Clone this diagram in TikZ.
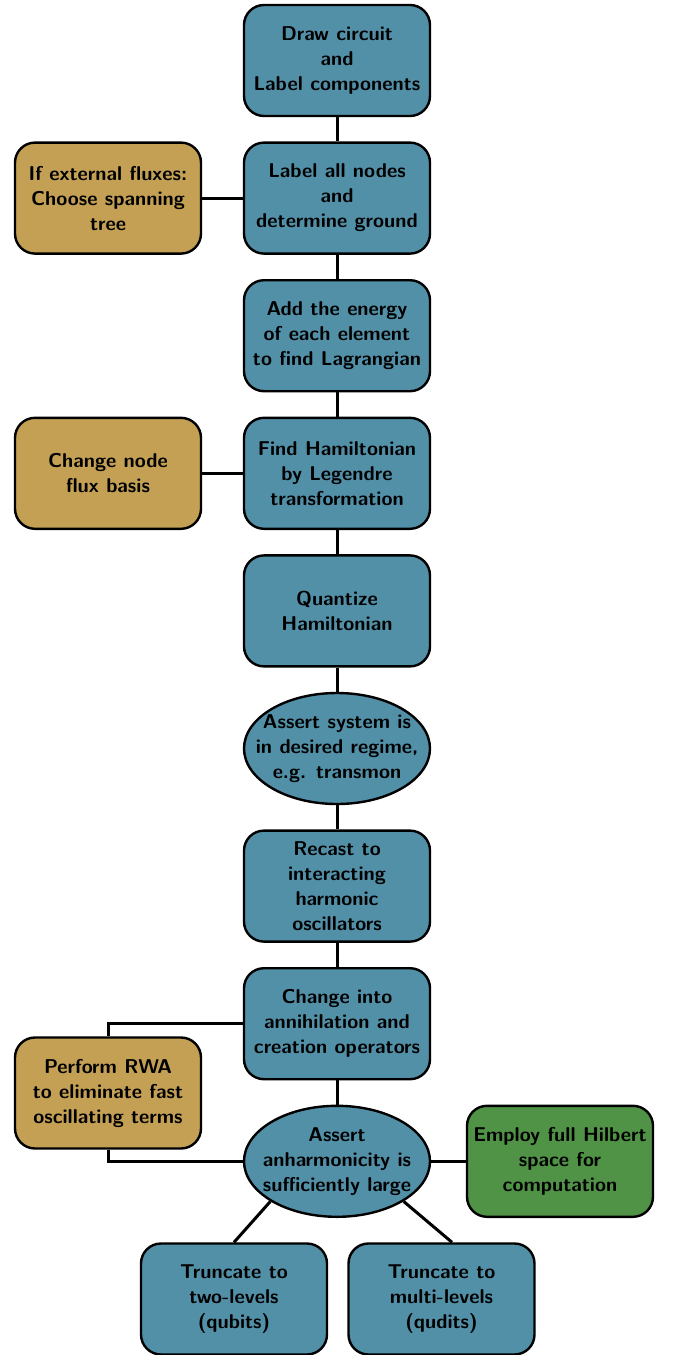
\documentclass[tikz,border=0pt]{standalone}
\def\rowsep{68.8pt}
\def\mainx{168.5pt}
\usepackage{tikz}
\usetikzlibrary{shapes.geometric}
\definecolor{stepblue}{RGB}{82,144,168}
\definecolor{sidetan}{RGB}{196,160,84}
\definecolor{altgreen}{RGB}{80,146,70}

\begin{document}
\begin{tikzpicture}[line width=1.5pt, font=\fontsize{10}{12.5}\selectfont\sffamily\bfseries]
      \tikzstyle{block}=[draw=black, line width=1.2pt, rounded corners=10pt, minimum width=93pt, minimum height=55.5pt, align=center, inner sep=2pt, execute at begin node=\rule{0pt}{9.7pt}]
      \tikzstyle{main block}=[block, fill=stepblue]
      \tikzstyle{side block}=[block, fill=sidetan]
      \tikzstyle{alt block}=[block, fill=altgreen]
      \tikzstyle{check}=[ellipse, draw=black, line width=1.2pt, fill=stepblue, minimum width=93pt, minimum height=55.5pt, align=center, inner xsep=-10pt, inner ysep=0pt, execute at begin node=\rule{0pt}{9.7pt}]

      \useasboundingbox (0,0) rectangle (341.5pt,-677.5pt);

      % Draw the main column
      \node[main block] (circuit) at (\mainx,-30.25pt) {Draw circuit\\and\\Label components};
      \node[main block] (nodes) at (\mainx,-30.25pt-\rowsep) {Label all nodes\\and\\determine ground};
      \node[main block] (lagr) at (\mainx,-30.25pt-2*\rowsep) {Add the energy\\of each element\\to find Lagrangian};
      \node[main block] (hamil) at (\mainx,-30.25pt-3*\rowsep) {Find Hamiltonian\\by Legendre\\transformation};
      \node[main block] (quant) at (\mainx,-30.25pt-4*\rowsep) {Quantize\\Hamiltonian};
      \node[check] (regime) at (\mainx,-30.25pt-5*\rowsep) {Assert system is\\in desired regime,\\e.g. transmon};
      \node[main block] (recast) at (\mainx,-30.25pt-6*\rowsep) {Recast to\\interacting\\harmonic\\oscillators};
      \node[main block] (ladder) at (\mainx,-30.25pt-7*\rowsep) {Change into\\annihilation and\\creation operators};
      \node[check] (anharm) at (\mainx,-30.25pt-8*\rowsep) {Assert\\anharmonicity is\\sufficiently large};

      % Draw the side boxes
      \node[side block] (tree) at (54pt,-30.25pt-\rowsep) {If external fluxes:\\Choose spanning\\tree};
      \node[side block] (basis) at (54pt,-30.25pt-3*\rowsep) {Change node\\flux basis};
      \node[side block] (rwa) at (54pt,-546.5pt) {Perform RWA\\to eliminate fast\\oscillating terms};
      \node[alt block] (hilbert) at (280pt,-30.25pt-8*\rowsep) {Employ full Hilbert\\space for\\computation};

      % Draw the end boxes
      \node[main block] (qubit) at (117pt,-649.5pt) {Truncate to\\two-levels\\(qubits)};
      \node[main block] (qudit) at (220.75pt,-649.5pt) {Truncate to\\multi-levels\\(qudits)};

      % Connect the main column
      \foreach \source / \dest in {circuit/nodes,nodes/lagr,lagr/hamil,hamil/quant,quant/regime,regime/recast,recast/ladder,ladder/anharm}
          \path (\source) edge (\dest);

      % Connect the side boxes
      \path (tree) edge (nodes);
      \path (basis) edge (hamil);
      \path (anharm) edge (hilbert);
      \draw (ladder.west) -| (rwa.north);
      \draw (rwa.south) |- (anharm.west);
      \draw (anharm.south west) -- (qubit.north);
      \draw (anharm.south east) -- ([xshift=5.25pt]qudit.north);
  \end{tikzpicture}
\end{document}
